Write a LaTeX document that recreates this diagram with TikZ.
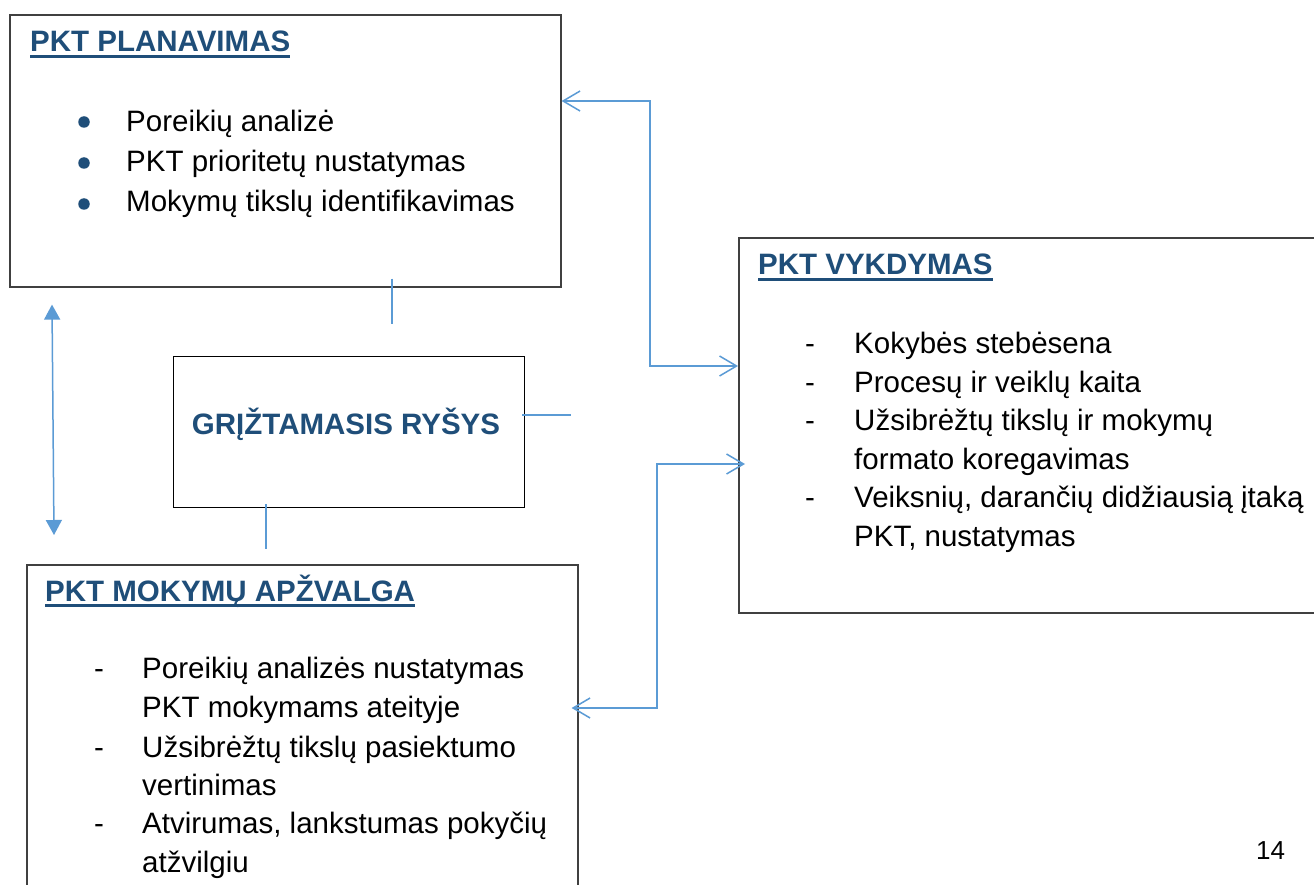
\documentclass[tikz,border=0pt]{standalone}
\usepackage{fontspec}
\setmainfont{Liberation Sans}
\usetikzlibrary{arrows.meta}

\definecolor{headblue}{HTML}{1F4E79}
\definecolor{linkblue}{HTML}{5B9BD5}
\definecolor{boxgray}{HTML}{404040}

\tikzset{
  box/.style={draw=boxgray,line width=1.6pt,anchor=north west,inner sep=0pt},
  head/.style={anchor=base west,inner sep=0pt,text=headblue,font=\fontsize{29.5}{35}\selectfont\bfseries},
  item/.style={anchor=base west,inner sep=0pt,font=\fontsize{29.5}{35}\selectfont},
  dashmark/.style={anchor=base,inner sep=0pt,font=\fontsize{29.5}{35}\selectfont},
  dot/.style={circle,fill=headblue,inner sep=0pt,minimum size=11.5pt},
  uline/.style={headblue,line width=2.4pt},
  barb/.style={linkblue,line width=1.5pt,{Straight Barb[length=17pt,width=20pt]}-{Straight Barb[length=17pt,width=20pt]}},
  tri/.style={linkblue,line width=1.5pt,{Triangle[length=15pt,width=16pt]}-{Triangle[length=15pt,width=16pt]}},
  fbline/.style={linkblue,line width=1.5pt}
}

\begin{document}
\begin{tikzpicture}[x=1pt,y=-1pt]
\clip (0,0) rectangle (1314,885);
\fill[white] (0,0) rectangle (1314,885);

% boxes
\node[box,minimum width=551pt,minimum height=272pt] (planavimas) at (9,14) {};
\node[box,draw=black,line width=1.2pt,minimum width=351pt,minimum height=151pt] (griztamasis) at (173,356) {};
\node[box,minimum width=620pt,minimum height=375pt] (vykdymas) at (738,237) {};
\node[box,minimum width=551pt,minimum height=400pt] (apzvalga) at (26,564) {};

% PKT planavimas
\node[head] (hplan) at (30,52) {PKT PLANAVIMAS};
\draw[uline] ([yshift=-4.5pt]hplan.base west) -- ([yshift=-4.5pt]hplan.base east);
\node[dot] (b1) at (84,122) {};
\node[dot] (b2) at (84,163) {};
\node[dot] (b3) at (84,204) {};
\node[item] (p1) at (126,132) {Poreikių analizė};
\node[item] (p2) at (126,172) {PKT prioritetų nustatymas};
\node[item] (p3) at (126,212) {Mokymų tikslų identifikavimas};

% griztamasis rysys
\node[head,anchor=base] (hfb) at (346,434) {GRĮŽTAMASIS RYŠYS};

% PKT vykdymas
\node[head] (hvyk) at (758,275) {PKT VYKDYMAS};
\draw[uline] ([yshift=-4.5pt]hvyk.base west) -- ([yshift=-4.5pt]hvyk.base east);
\node[dashmark] (d1) at (810,353) {-};
\node[dashmark] (d2) at (810,392) {-};
\node[dashmark] (d3) at (810,430) {-};
\node[dashmark] (d4) at (810,507) {-};
\node[item] (v1) at (854,353) {Kokybės stebėsena};
\node[item] (v2) at (854,392) {Procesų ir veiklų kaita};
\node[item] (v3) at (854,430) {Užsibrėžtų tikslų ir mokymų};
\node[item] (v4) at (854,469) {formato koregavimas};
\node[item] (v5) at (854,507) {Veiksnių, darančių didžiausią įtaką};
\node[item] (v6) at (854,546) {PKT, nustatymas};

% PKT mokymu apzvalga
\node[head] (hapz) at (45,601) {PKT MOKYMŲ APŽVALGA};
\draw[uline] ([yshift=-4.5pt]hapz.base west) -- ([yshift=-4.5pt]hapz.base east);
\node[dashmark] (e1) at (99,678) {-};
\node[dashmark] (e2) at (99,757) {-};
\node[dashmark] (e3) at (99,833) {-};
\node[item] (a1) at (142,678) {Poreikių analizės nustatymas};
\node[item] (a2) at (142,717) {PKT mokymams ateityje};
\node[item] (a3) at (142,757) {Užsibrėžtų tikslų pasiektumo};
\node[item] (a4) at (142,795) {vertinimas};
\node[item] (a5) at (142,833) {Atvirumas, lankstumas pokyčių};
\node[item] (a6) at (142,872) {atžvilgiu};

% page number
\node[item,font=\fontsize{26}{30}\selectfont] (pnum) at (1256,859) {14};

% connectors
\draw[barb] (planavimas.east |- 0,101) -- (650,101) |- (vykdymas.west |- 0,366);
\draw[barb,shorten <=-7pt,shorten >=-7pt] (apzvalga.east |- 0,708) -- (657,708) |- (vykdymas.west |- 0,464);
\draw[tri] ([xshift=43pt,yshift=-17pt]planavimas.south west) -- ([xshift=28pt,yshift=29pt]apzvalga.north west);

% feedback lines
\coordinate (fbtop) at (392,324);
\coordinate (fbright) at (571,415);
\coordinate (fbbot) at (266,549);
\draw[fbline] (planavimas.south -| fbtop) ++(0,-9) -- (fbtop);
\draw[fbline] (griztamasis.east |- fbright) ++(-3,0) -- (fbright);
\draw[fbline] (griztamasis.south -| fbbot) ++(0,-4) -- (fbbot);
\end{tikzpicture}
\end{document}
